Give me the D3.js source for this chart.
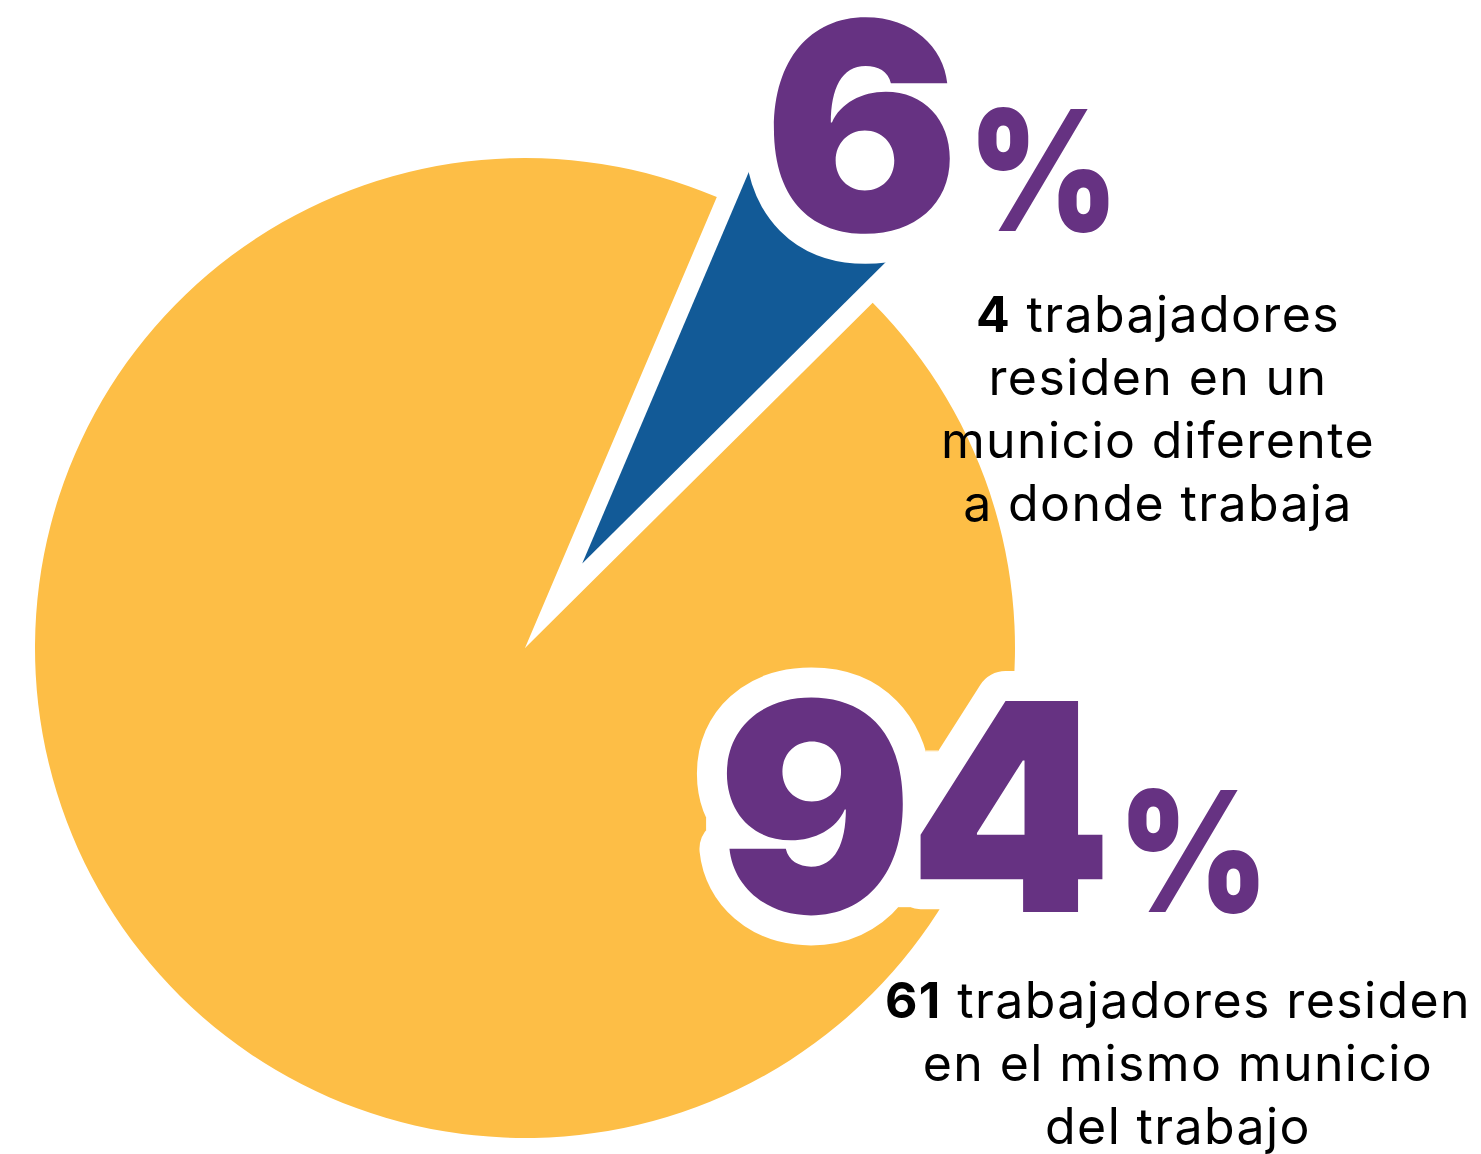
<!DOCTYPE html>
<html><head><meta charset="utf-8">
<script src="https://cdn.jsdelivr.net/npm/d3@7"></script>
<style>body{margin:0;background:#fff}</style>
</head><body>
<svg id="chart" width="1481" height="1154"></svg>
<script>
// ---- data ----
const categories = ["Mismo municipio del trabajo", "Municipio diferente"];
const workers = [61, 4];
const sliceColors = ["#FDBE46", "#125A97"];
const boldCounts = ["61", "4"];
const descLines = [
  [" trabajadores residen", "en el mismo municio", "del trabajo"],
  [" trabajadores", "residen en un", "municio diferente", "a donde trabaja"]
];

// ---- layout ----
const cx = 525, cy = 648, R = 490;
const explode = 102;
const purple = "#663282";
const svg = d3.select("#chart");

// closing filter for the white halo (fills small counter holes)
const defs = svg.append("defs");
const f = defs.append("filter").attr("id", "closeHalo")
  .attr("x", "-20%").attr("y", "-20%").attr("width", "140%").attr("height", "140%");
f.append("feMorphology").attr("operator", "dilate").attr("radius", 6)
  .attr("in", "SourceGraphic").attr("result", "d");
f.append("feMorphology").attr("operator", "erode").attr("radius", 6).attr("in", "d");

const deg = Math.PI / 180;
const start = 45.2 * deg;
const pie = d3.pie().sort(null).startAngle(start).endAngle(start + 2 * Math.PI);
const arcs = pie(workers);
const arc = d3.arc().innerRadius(0).outerRadius(R);
const total = d3.sum(workers);

const g = svg.append("g").attr("transform", `translate(${cx},${cy})`);
g.selectAll("path").data(arcs).join("path")
  .attr("d", arc)
  .attr("fill", (d, i) => sliceColors[i])
  .attr("transform", (d, i) => {
    if (i === 0) return null;
    const a = (d.startAngle + d.endAngle) / 2;
    return `translate(${Math.sin(a) * explode},${-Math.cos(a) * explode})`;
  });

const pct = workers.map(v => Math.round(v / total * 100));

// big percentage labels
const bigFont = "Inter, 'Noto Sans', sans-serif";
const bigLabels = [
  { idx: 0, x: 717, y: 912, size: 290, px: 1118, pSize: 168 },
  { idx: 1, x: 764, y: 231, size: 290, px: 968, pSize: 168 }
];
bigLabels.forEach(b => {
  // white halo layer
  svg.append("g").attr("filter", "url(#closeHalo)")
    .append("text")
    .attr("x", b.x).attr("y", b.y)
    .attr("font-family", bigFont).attr("font-weight", 900)
    .attr("font-size", b.size)
    .style("letter-spacing", "-4px")
    .attr("fill", "#fff")
    .attr("stroke", "#fff").attr("stroke-width", 60)
    .attr("stroke-linejoin", "round")
    .text(pct[b.idx]);
  svg.append("text")
    .attr("x", b.x).attr("y", b.y)
    .attr("font-family", bigFont).attr("font-weight", 900)
    .attr("font-size", b.size)
    .style("letter-spacing", "-4px")
    .attr("fill", purple)
    .text(pct[b.idx]);
  svg.append("text")
    .attr("transform", `translate(${b.px},${b.y}) scale(0.86,1)`)
    .attr("font-family", bigFont).attr("font-weight", 900)
    .attr("font-size", b.pSize)
    .attr("fill", purple)
    .text("%");
});

// descriptions
const descPos = [
  { idx: 0, x: 1178, y0: 1018, lh: 63 },
  { idx: 1, x: 1158, y0: 332, lh: 63 }
];
descPos.forEach(p => {
  const lines = descLines[p.idx];
  lines.forEach((ln, j) => {
    const t = svg.append("text")
      .attr("x", p.x).attr("y", p.y0 + j * p.lh)
      .attr("text-anchor", "middle")
      .attr("font-family", "Inter, 'Noto Sans', sans-serif")
      .attr("font-size", 50).attr("fill", "#000")
      .style("letter-spacing", "1.4px");
    if (j === 0) t.append("tspan").attr("font-weight", 700).text(boldCounts[p.idx]);
    t.append("tspan").attr("font-weight", 400).text(ln);
  });
});
</script>
</body></html>
